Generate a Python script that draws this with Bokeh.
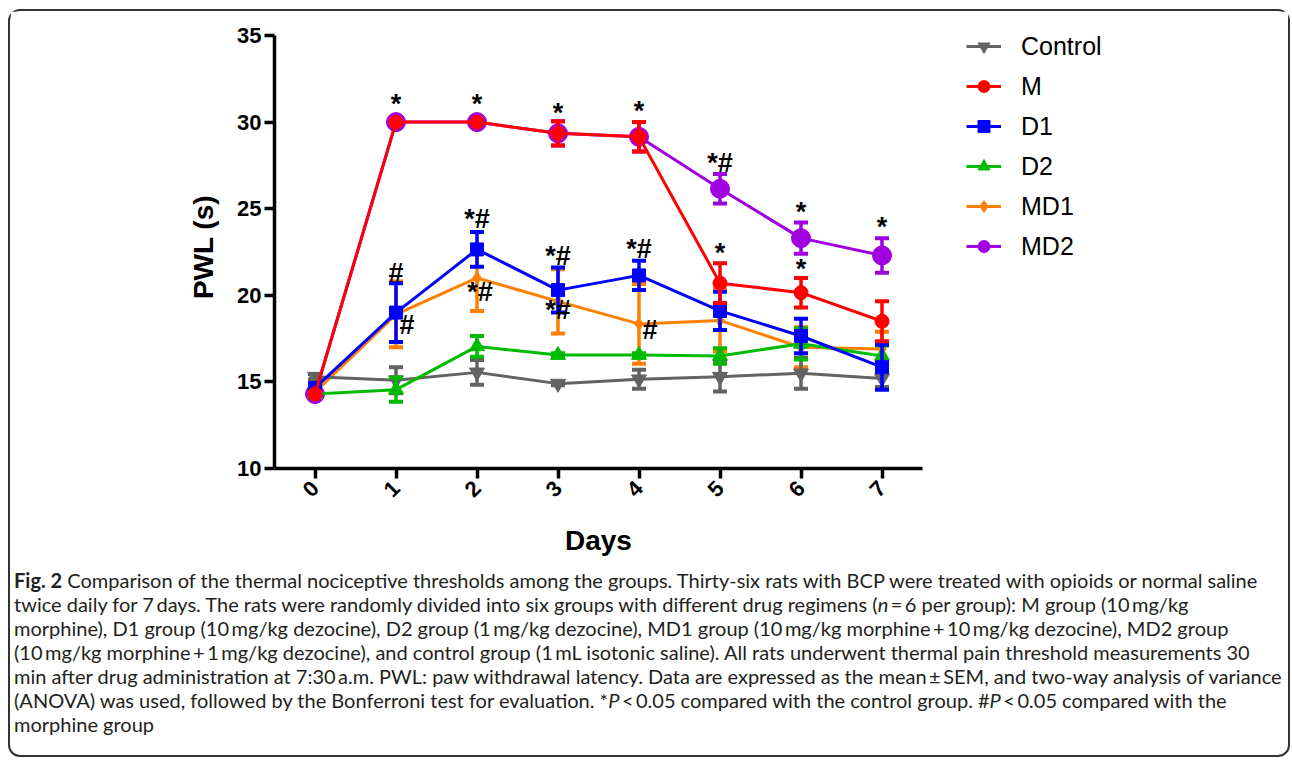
import math
from bokeh.plotting import figure
from bokeh.models import Range1d, Legend, LegendItem, Div, ColumnDataSource, Title
from bokeh.layouts import column
from bokeh.core.properties import value
from bokeh.embed import file_html
from bokeh.resources import INLINE

# ---------------- data ----------------
days = [0, 1, 2, 3, 4, 5, 6, 7]
y_ticks = [10, 15, 20, 25, 30, 35]
x_title = "Days"
y_title = "PWL (s)"

groups = ["Control", "M", "D1", "D2", "MD1", "MD2"]

control_mean = [15.3, 15.1, 15.55, 14.9, 15.15, 15.3, 15.5, 15.2]
control_sem = [0.15, 0.75, 0.72, 0.1, 0.55, 0.85, 0.9, 0.5]

m_mean = [14.3, 30.0, 30.0, 29.35, 29.15, 20.7, 20.15, 18.5]
m_sem = [0.1, 0.0, 0.0, 0.7, 0.85, 1.15, 0.85, 1.15]

d1_mean = [14.65, 19.0, 22.65, 20.3, 21.15, 19.1, 17.65, 15.85]
d1_sem = [0.2, 1.7, 1.0, 1.3, 0.85, 1.1, 1.0, 1.3]

d2_mean = [14.3, 14.55, 17.05, 16.55, 16.55, 16.5, 17.2, 16.5]
d2_sem = [0.1, 0.7, 0.6, 0.1, 0.1, 0.45, 0.9, 0.6]

md1_mean = [14.4, 18.9, 21.0, 19.65, 18.35, 18.55, 17.0, 16.9]
md1_sem = [0.1, 1.9, 1.9, 1.85, 2.3, 1.8, 1.15, 1.0]

md2_mean = [14.3, 30.0, 30.0, 29.35, 29.15, 26.15, 23.3, 22.3]
md2_sem = [0.1, 0.0, 0.0, 0.7, 0.85, 0.85, 0.9, 1.0]

means = {"Control": control_mean, "M": m_mean, "D1": d1_mean,
         "D2": d2_mean, "MD1": md1_mean, "MD2": md2_mean}
sems = {"Control": control_sem, "M": m_sem, "D1": d1_sem,
        "D2": d2_sem, "MD1": md1_sem, "MD2": md2_sem}

# significance marks: (group, day, text, anchor)
sig_marks = [
    ("M", 1, "*", "top"), ("M", 2, "*", "top"), ("M", 3, "*", "top"),
    ("M", 4, "*", "top"), ("M", 5, "*", "top"), ("M", 6, "*", "top"),
    ("MD2", 5, "*#", "top"), ("MD2", 6, "*", "top"), ("MD2", 7, "*", "top"),
    ("D1", 1, "#", "top"), ("D1", 2, "*#", "top"), ("D1", 3, "*#", "top"),
    ("D1", 4, "*#", "top"),
    ("MD1", 1, "#", "mean"), ("MD1", 2, "*#", "mean"), ("MD1", 3, "*#", "mean"),
    ("MD1", 4, "#", "mean"),
]

caption_lines = [
    "<b>Fig. 2</b> Comparison of the thermal nociceptive thresholds among the groups. Thirty-six rats with BCP were treated with opioids or normal saline",
    "twice daily for 7\u2009days. The rats were randomly divided into six groups with different drug regimens (<i>n</i>\u2009=\u20096 per group): M group (10\u2009mg/kg",
    "morphine), D1 group (10\u2009mg/kg dezocine), D2 group (1\u2009mg/kg dezocine), MD1 group (10\u2009mg/kg morphine\u2009+\u200910\u2009mg/kg dezocine), MD2 group",
    "(10\u2009mg/kg morphine\u2009+\u20091\u2009mg/kg dezocine), and control group (1\u2009mL isotonic saline). All rats underwent thermal pain threshold measurements 30",
    "min after drug administration at 7:30\u2009a.m. PWL: paw withdrawal latency. Data are expressed as the mean\u2009\u00b1\u2009SEM, and two-way analysis of variance",
    "(ANOVA) was used, followed by the Bonferroni test for evaluation. *<i>P</i>\u2009&lt;\u20090.05 compared with the control group. #<i>P</i>\u2009&lt;\u20090.05 compared with the",
    "morphine group",
]

# ---------------- styles ----------------
style = {
    "Control": dict(color="#636363", marker="inverted_triangle", size=15),
    "M": dict(color="#FF0000", marker="circle", size=14),
    "D1": dict(color="#0000FF", marker="square", size=13),
    "D2": dict(color="#00BB00", marker="triangle", size=15),
    "MD1": dict(color="#FF8000", marker="diamond", size=13),
    "MD2": dict(color="#A000E0", marker="circle", size=19),
}
draw_order = ["MD2", "MD1", "Control", "D2", "D1", "M"]
sig_offsets = {
    ("M", 1): (0, -18), ("M", 2): (0, -18), ("M", 3): (0, -8), ("M", 4): (0, -11),
    ("M", 5): (0, -10), ("M", 6): (0, -9),
    ("MD2", 5): (0, -11), ("MD2", 6): (0, -11), ("MD2", 7): (0, -11),
    ("D1", 1): (0, -10), ("D1", 2): (0, -13), ("D1", 3): (0, -12), ("D1", 4): (0, -12),
    ("MD1", 1): (11, 11), ("MD1", 2): (3, 14), ("MD1", 3): (0, 9), ("MD1", 4): (11, 6),
}

FONT = "Liberation Sans"

# plot geometry (pixels)
FIG_W, FIG_H = 1278, 563
B_LEFT, B_TOP, B_BOTTOM = 264, 14, 106
AX_W_PX = 648            # width of the drawn axis span (-0.5 .. 7.5)
AX_H_PX = 433            # height of the drawn axis span (10 .. 35)
FRAME_W = FIG_W - B_LEFT
FRAME_H = FIG_H - B_TOP - B_BOTTOM
x_lo, x_hi = -0.5, 7.5
y_lo, y_hi = 10, 35
x_end = x_lo + (x_hi - x_lo) * FRAME_W / AX_W_PX
y_end = y_lo + (y_hi - y_lo) * FRAME_H / AX_H_PX

p = figure(width=FIG_W, height=FIG_H, x_range=Range1d(x_lo, x_end), y_range=Range1d(y_lo, y_end),
           output_backend="svg", toolbar_location=None,
           min_border_left=B_LEFT, min_border_right=0, min_border_top=B_TOP,
           min_border_bottom=B_BOTTOM)
p.grid.visible = False
p.outline_line_color = None
p.background_fill_color = "white"
p.border_fill_color = "white"

renderers = {}
for g in draw_order:
    st = style[g]
    mean = means[g]
    sem = sems[g]
    src = ColumnDataSource(dict(x=days, y=mean,
                                lo=[a - b for a, b in zip(mean, sem)],
                                hi=[a + b for a, b in zip(mean, sem)]))
    p.segment(x0="x", y0="lo", x1="x", y1="hi", source=src, line_color=st["color"], line_width=3.5)
    p.scatter("x", "lo", source=src, marker="dash", size=14, line_color=st["color"], line_width=4)
    p.scatter("x", "hi", source=src, marker="dash", size=14, line_color=st["color"], line_width=4)
    lr = p.line("x", "y", source=src, line_color=st["color"], line_width=3)
    sr = p.scatter("x", "y", source=src, marker=st["marker"], size=st["size"],
                   fill_color=st["color"], line_color=st["color"])
    renderers[g] = (lr, sr)

# significance text
tx, ty, tt, xo, yo = [], [], [], [], []
for g, d, t, anchor in sig_marks:
    i = days.index(d)
    yv = means[g][i] + (sems[g][i] if anchor == "top" else 0)
    dx, dy = sig_offsets[(g, d)]
    tx.append(d); ty.append(yv); tt.append(t); xo.append(dx); yo.append(dy)
p.text(x=tx, y=ty, text=tt, x_offset=xo, y_offset=yo, text_align="center",
       text_baseline="middle", text_font=value(FONT), text_font_style="bold",
       text_font_size="27px", text_color="black")

# axes
p.xaxis.ticker = days
p.yaxis.ticker = y_ticks
p.xaxis.bounds = (x_lo, x_hi)
p.yaxis.bounds = (y_lo, y_hi)
p.xaxis.major_label_orientation = math.pi / 4
for ax in (p.xaxis, p.yaxis):
    ax.axis_line_width = 3.5
    ax.axis_line_color = "black"
    ax.major_tick_line_width = 3.5
    ax.major_tick_line_color = "black"
    ax.major_tick_out = 10
    ax.major_tick_in = 0
    ax.minor_tick_out = 0
    ax.minor_tick_in = 0
    ax.major_label_text_font = FONT
    ax.major_label_text_font_style = "bold"
    ax.major_label_text_font_size = "22px"
    ax.major_label_text_color = "black"
    ax.axis_label_text_font = FONT
    ax.axis_label_text_font_style = "bold"
    ax.axis_label_text_font_size = "28px"
    ax.axis_label_text_color = "black"
p.yaxis.axis_label = y_title
p.yaxis.major_label_standoff = 3
p.yaxis.axis_label_standoff = 15
p.xaxis.major_label_standoff = 6

# x-axis title centred under the drawn axis span (not the whole frame)
days_w = 67  # approx. rendered width of the title text
x_title_obj = Title(text=x_title, align="left", offset=AX_W_PX / 2 - days_w / 2,
                    text_font=FONT, text_font_style="bold", text_font_size="28px",
                    text_color="black", standoff=32)
p.add_layout(x_title_obj, "below")

legend = Legend(items=[LegendItem(label=g, renderers=list(renderers[g])) for g in groups],
                location=(692, 207), glyph_width=35, glyph_height=30, label_height=30,
                label_standoff=20, spacing=10, padding=0, margin=0,
                border_line_color=None, background_fill_alpha=0,
                label_text_font=FONT, label_text_font_size="25px", label_text_color="black")
p.add_layout(legend)

cap_html = ('<div style="margin-left:4px; margin-top:-6px">'
            + "<br>".join(caption_lines) + "</div>")
cap = Div(text=cap_html, width=FIG_W, height=181, margin=0,
          styles={"font-family": "Lato", "font-size": "20px", "line-height": "24px",
                  "color": "#231f20", "white-space": "nowrap"})

layout = column(p, cap, margin=(9, 0, 0, 8),
                styles={"border": "2px solid #333333", "border-radius": "12px",
                        "background-color": "white"})

open("out.html", "w").write(file_html(layout, INLINE))
